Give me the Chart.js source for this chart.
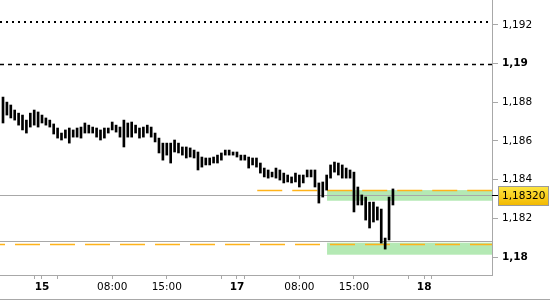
<!DOCTYPE html>
<html>
<head>
    <title>Price bars</title>
    <script src="https://cdn.jsdelivr.net/npm/chart.js"></script>
    <style>
        body { margin: 0; background: #fff; }
        #wrap { width: 550px; height: 300px; }
    </style>
</head>
<body>
<div id="wrap"><canvas id="priceChart" width="550" height="300"></canvas></div>
<script>
    // bar highs / lows, one bar per 30 min, first bar at slot 1
    const highs = [
        1.18827, 1.18801, 1.18786, 1.18760, 1.18744, 1.18734, 1.18708, 1.18744, 1.18760, 1.18750,
        1.18734, 1.18719, 1.18708, 1.18688, 1.18667, 1.18641, 1.18657, 1.18667, 1.18657, 1.18667,
        1.18672, 1.18693, 1.18682, 1.18672, 1.18667, 1.18657, 1.18667, 1.18667, 1.18698, 1.18682,
        1.18672, 1.18708, 1.18693, 1.18698, 1.18682, 1.18667, 1.18672, 1.18682, 1.18672, 1.18641,
        1.18615, 1.18589, 1.18589, 1.18589, 1.18605, 1.18589, 1.18569, 1.18569, 1.18564, 1.18553,
        1.18543, 1.18517, 1.18512, 1.18512, 1.18517, 1.18527, 1.18538, 1.18553, 1.18553, 1.18543,
        1.18543, 1.18527, 1.18527, 1.18517, 1.18512, 1.18512, 1.18486, 1.18460, 1.18450, 1.18439,
        1.18460, 1.18450, 1.18434, 1.18424, 1.18414, 1.18434, 1.18424, 1.18424, 1.18450, 1.18450,
        1.18450, 1.18383, 1.18388, 1.18424, 1.18476, 1.18491, 1.18486, 1.18476, 1.18460, 1.18450,
        1.18439, 1.18362, 1.18321, 1.18310, 1.18284, 1.18284, 1.18259, 1.18248, 1.18098, 1.18310,
        1.18352
    ];
    const lows = [
        1.18693, 1.18734, 1.18719, 1.18708, 1.18682, 1.18657, 1.18641, 1.18672, 1.18682, 1.18672,
        1.18693, 1.18682, 1.18672, 1.18636, 1.18615, 1.18605, 1.18615, 1.18589, 1.18620, 1.18620,
        1.18615, 1.18641, 1.18641, 1.18641, 1.18620, 1.18605, 1.18615, 1.18641, 1.18657, 1.18646,
        1.18620, 1.18569, 1.18620, 1.18620, 1.18641, 1.18615, 1.18620, 1.18641, 1.18620, 1.18595,
        1.18538, 1.18501, 1.18527, 1.18486, 1.18543, 1.18538, 1.18527, 1.18512, 1.18517, 1.18512,
        1.18450, 1.18465, 1.18476, 1.18476, 1.18486, 1.18486, 1.18501, 1.18527, 1.18527, 1.18527,
        1.18517, 1.18501, 1.18501, 1.18460, 1.18476, 1.18465, 1.18434, 1.18414, 1.18408, 1.18414,
        1.18408, 1.18398, 1.18383, 1.18388, 1.18383, 1.18388, 1.18362, 1.18383, 1.18414, 1.18414,
        1.18362, 1.18279, 1.18310, 1.18346, 1.18408, 1.18439, 1.18424, 1.18408, 1.18408, 1.18408,
        1.18233, 1.18269, 1.18269, 1.18191, 1.18150, 1.18181, 1.18191, 1.18072, 1.18041, 1.18088,
        1.18269
    ];
    const firstSlot = 1;

    // time axis (in 30 min slots), weekend removed
    const xMin = 0.23;
    const xMax = 126.4;
    const xTickValues = [9, 11, 15, 29, 43, 57, 61, 63, 77, 91, 105, 109, 111];
    const xTickLabels = ['', '15', '', '08:00', '15:00', '', '17', '', '08:00', '15:00', '', '18', ''];

    // price axis
    const yMin = 1.17907;
    const yMax = 1.19329;
    const yTickValues = [1.18, 1.182, 1.184, 1.186, 1.188, 1.19, 1.192];

    // levels
    const lastPrice = 1.1832;
    const dottedLevel = 1.19215;
    const dashedLevel = 1.19;
    const grayLevels = [1.1832, 1.18083];
    const orangeLevels = [1.18346, 1.18066];
    const orangeStarts = [66.2, xMin];
    const greenZones = [[1.18291, 1.18346], [1.18012, 1.18074]];
    const zoneStart = 84.1;

    const FONT = 'DejaVu Sans';
    const bars = highs.map((h, i) => ({ x: firstSlot + i, y: [lows[i], h] }));

    const fmtPrice = v => v.toFixed(3).replace(/0+$/, '').replace('.', ',');

    const levelsPlugin = {
        id: 'levels',
        beforeDatasetsDraw(chart) {
            const { ctx, chartArea: a, scales: { x, y } } = chart;
            ctx.save();
            ctx.beginPath();
            ctx.rect(a.left, a.top, a.right - a.left, a.bottom - a.top);
            ctx.clip();

            // green zones
            ctx.fillStyle = '#b4e9b4';
            const zx = x.getPixelForValue(zoneStart);
            greenZones.forEach(z => {
                const top = y.getPixelForValue(z[1]);
                const bot = y.getPixelForValue(z[0]);
                ctx.fillRect(zx, top, a.right - zx, bot - top);
            });

            // gray lines
            ctx.strokeStyle = '#a8a8a8';
            ctx.lineWidth = 1;
            grayLevels.forEach(v => {
                const py = Math.round(y.getPixelForValue(v)) + 0.5;
                ctx.beginPath();
                ctx.moveTo(a.left, py);
                ctx.lineTo(a.right, py);
                ctx.stroke();
            });

            // orange dashed lines
            ctx.strokeStyle = '#ffb31a';
            ctx.lineWidth = 1.6;
            ctx.setLineDash([25, 10]);
            orangeLevels.forEach((v, i) => {
                const py = Math.round(y.getPixelForValue(v)) + 0.5;
                ctx.lineDashOffset = i === 1 ? 20 : 0;
                ctx.beginPath();
                ctx.moveTo(x.getPixelForValue(orangeStarts[i]), py);
                ctx.lineTo(a.right, py);
                ctx.stroke();
            });

            // black dotted / dashed
            ctx.strokeStyle = '#000';
            ctx.lineDashOffset = 0;
            ctx.lineWidth = 2;
            ctx.setLineDash([2, 4]);
            let py = Math.round(y.getPixelForValue(dottedLevel));
            ctx.beginPath();
            ctx.moveTo(a.left, py);
            ctx.lineTo(a.right, py);
            ctx.stroke();

            ctx.lineWidth = 1.5;
            ctx.setLineDash([4, 4]);
            py = Math.round(y.getPixelForValue(dashedLevel)) + 0.5;
            ctx.beginPath();
            ctx.moveTo(a.left, py);
            ctx.lineTo(a.right, py);
            ctx.stroke();
            ctx.restore();
        },
        afterDraw(chart) {
            const { ctx, chartArea: a, scales: { y } } = chart;
            const py = Math.round(y.getPixelForValue(lastPrice)) + 0.5;
            ctx.save();
            // price tag
            const g = ctx.createLinearGradient(0, py - 9, 0, py + 10);
            g.addColorStop(0, '#ffe640');
            g.addColorStop(1, '#f2b800');
            ctx.fillStyle = g;
            ctx.fillRect(a.right + 6, py - 9.5, 50, 19);
            ctx.strokeStyle = '#9a9a9a';
            ctx.lineWidth = 1;
            ctx.strokeRect(a.right + 6.5, py - 9, 50, 19);
            ctx.strokeStyle = '#000';
            ctx.beginPath();
            ctx.moveTo(a.right, py);
            ctx.lineTo(a.right + 6, py);
            ctx.stroke();
            ctx.fillStyle = '#000';
            ctx.font = '10.5px "' + FONT + '"';
            ctx.textBaseline = 'middle';
            ctx.fillText(lastPrice.toFixed(5).replace('.', ','), a.right + 10, py + 1);
            // bottom frame line
            ctx.strokeStyle = '#a8a8a8';
            ctx.beginPath();
            ctx.moveTo(0, chart.height - 0.5);
            ctx.lineTo(chart.width, chart.height - 0.5);
            ctx.stroke();
            ctx.restore();
        }
    };

    const noPad = s => { s.paddingTop = 0; s.paddingBottom = 0; s.paddingLeft = 0; s.paddingRight = 0; };

    const ctx = document.getElementById('priceChart').getContext('2d');
    const priceChart = new Chart(ctx, {
        type: 'bar',
        data: {
            datasets: [{
                data: bars,
                backgroundColor: '#000',
                borderWidth: 0,
                barThickness: 2
            }]
        },
        options: {
            responsive: false,
            animation: false,
            layout: { padding: 0 },
            plugins: {
                legend: { display: false },
                tooltip: { enabled: false }
            },
            scales: {
                x: {
                    type: 'linear',
                    min: xMin,
                    max: xMax,
                    offset: false,
                    afterBuildTicks: s => { s.ticks = xTickValues.map(v => ({ value: v })); },
                    afterFit: s => { s.height = 25; noPad(s); },
                    grid: { drawOnChartArea: false, offset: false, tickLength: 4, color: '#a8a8a8' },
                    border: { color: '#a8a8a8' },
                    ticks: {
                        autoSkip: false,
                        maxRotation: 0,
                        padding: 2,
                        color: '#000',
                        font: c => ({
                            family: FONT,
                            size: 10.5,
                            weight: (c.index !== undefined && /^\d+$/.test(xTickLabels[c.index] || '')) ? 'bold' : 'normal'
                        }),
                        callback: (v, i) => xTickLabels[i]
                    }
                },
                y: {
                    position: 'right',
                    min: yMin,
                    max: yMax,
                    afterBuildTicks: s => { s.ticks = yTickValues.map(v => ({ value: v })); },
                    afterFit: s => { s.width = 58; noPad(s); },
                    grid: { drawOnChartArea: false, tickLength: 6, color: '#a8a8a8' },
                    border: { color: '#a8a8a8' },
                    ticks: {
                        autoSkip: false,
                        padding: 4,
                        color: '#000',
                        font: c => ({
                            family: FONT,
                            size: 10.5,
                            weight: (c.tick && fmtPrice(c.tick.value).length <= 4) ? 'bold' : 'normal'
                        }),
                        callback: v => fmtPrice(v)
                    }
                }
            }
        },
        plugins: [levelsPlugin]
    });
</script>
</body>
</html>
